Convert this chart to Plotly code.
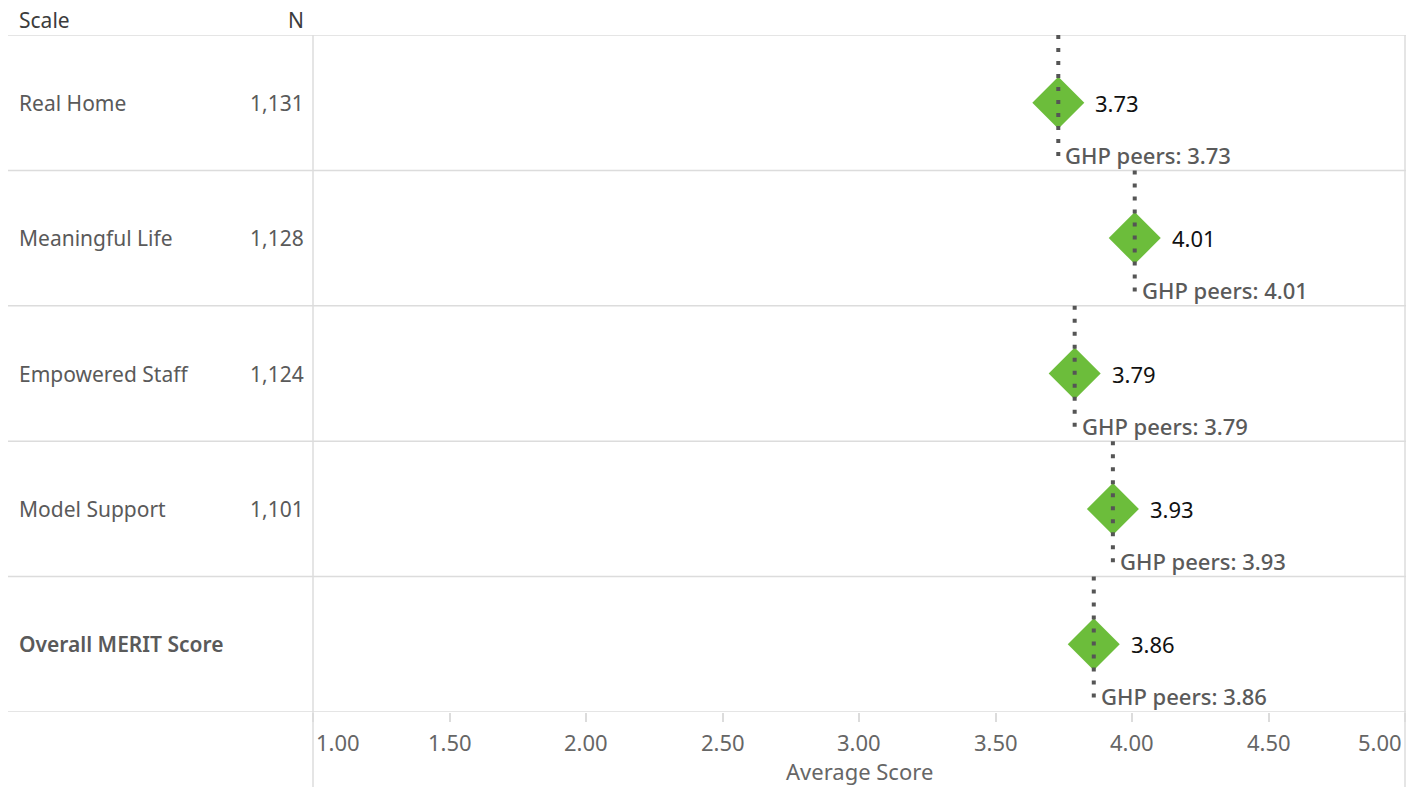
import plotly.graph_objects as go

# Survey scales, respondent counts and scores
scales = ["Real Home", "Meaningful Life", "Empowered Staff", "Model Support", "Overall MERIT Score"]
n_counts = ["1,131", "1,128", "1,124", "1,101", ""]
avg_scores = [3.73, 4.01, 3.79, 3.93, 3.86]
peer_scores = [3.73, 4.01, 3.79, 3.93, 3.86]
tick_vals = [1.0, 1.5, 2.0, 2.5, 3.0, 3.5, 4.0, 4.5, 5.0]

W, H = 1421, 787
ML, MR, MT, MB = 313, 16, 35, 75
PW = W - ML - MR
PH = H - MT - MB

FONT = "Noto Sans"
GREY = "#5a5a5a"
LINE = "#dcdcdc"
GREEN = "#6cbd3b"


def px_to_paper_x(px):
    return (px - ML) / PW


def px_to_paper_y(py):
    return (H - MB - py) / PH


rows = list(range(len(scales)))
fig = go.Figure()

# Scores as diamonds
fig.add_trace(go.Scatter(
    x=avg_scores, y=rows, mode="markers",
    marker=dict(symbol="diamond", size=40, color=GREEN, line=dict(width=0)),
    hoverinfo="skip", showlegend=False,
))

# Peer reference lines (dotted) spanning each row
for i, p in enumerate(peer_scores):
    fig.add_trace(go.Scatter(
        x=[p, p], y=[i - 0.5, i + 0.45], mode="lines",
        line=dict(color="#555555", width=4, dash="4px,9px"),
        hoverinfo="skip", showlegend=False,
    ))

ann = []
for i, (s, n, v, p) in enumerate(zip(scales, n_counts, avg_scores, peer_scores)):
    bold = s.startswith("Overall")
    ann.append(dict(
        x=px_to_paper_x(17), xref="paper", y=i, yref="y", text=s,
        xanchor="left", yanchor="middle", showarrow=False,
        font=dict(family=FONT, size=21, color=GREY,
                  weight=600 if bold else 400),
    ))
    if n:
        ann.append(dict(
            x=px_to_paper_x(306), xref="paper", y=i, yref="y", text=n,
            xanchor="right", yanchor="middle", showarrow=False,
            font=dict(family=FONT, size=21, color=GREY),
        ))
    ann.append(dict(
        x=v, xref="x", y=i, yref="y", text=f"{v:.2f}",
        xanchor="left", yanchor="middle", showarrow=False, xshift=35,
        font=dict(family=FONT, size=22, color="#111111"),
    ))
    ann.append(dict(
        x=p, xref="x", y=i + 0.385, yref="y", text=f"GHP peers: {p:.2f}",
        xanchor="left", yanchor="middle", showarrow=False, xshift=5,
        font=dict(family=FONT, size=22, color=GREY, weight=500),
    ))

# Column headers
ann.append(dict(x=px_to_paper_x(17), xref="paper", y=px_to_paper_y(20), yref="paper",
                text="Scale", xanchor="left", yanchor="middle", showarrow=False,
                font=dict(family=FONT, size=21, color="#3c3c3c", weight=400)))
ann.append(dict(x=px_to_paper_x(306), xref="paper", y=px_to_paper_y(20), yref="paper",
                text="N", xanchor="right", yanchor="middle", showarrow=False,
                font=dict(family=FONT, size=21, color="#3c3c3c", weight=400)))

# Axis tick labels
for k, t in enumerate(tick_vals):
    anchor = "left" if k == 0 else ("right" if k == len(tick_vals) - 1 else "center")
    shift = 1 if k == 0 else (-1 if k == len(tick_vals) - 1 else 0)
    ann.append(dict(x=t, xref="x", y=0, yref="paper", text=f"{t:.2f}",
                    xanchor=anchor, yanchor="middle", yshift=-30, xshift=shift,
                    showarrow=False, font=dict(family=FONT, size=22, color="#666666")))

ann.append(dict(x=0.5, xref="paper", y=0, yref="paper", text="Average Score",
                xanchor="center", yanchor="middle", yshift=-59, showarrow=False,
                font=dict(family=FONT, size=22, color="#666666")))

shapes = []
# Row separators across the table and the plot
for i in range(len(scales) + 1):
    shapes.append(dict(type="line", xref="paper", yref="y",
                       x0=px_to_paper_x(8), x1=px_to_paper_x(1406), y0=i - 0.5, y1=i - 0.5,
                       line=dict(color=LINE, width=1.5), layer="below"))
# Left and right borders of the plot pane
for bx in (0, 1):
    shapes.append(dict(type="line", xref="paper", yref="paper",
                       x0=bx, x1=bx, y0=px_to_paper_y(787), y1=1,
                       line=dict(color=LINE, width=1.5), layer="below"))

fig.update_layout(
    width=W, height=H,
    margin=dict(l=ML, r=MR, t=MT, b=MB),
    paper_bgcolor="white", plot_bgcolor="white",
    xaxis=dict(range=[1, 5], tickvals=tick_vals, showticklabels=False,
               ticks="outside", ticklen=9, tickcolor=LINE, tickwidth=1.5,
               showgrid=False, zeroline=False, showline=False, fixedrange=True),
    yaxis=dict(range=[len(scales) - 0.5, -0.5], showticklabels=False,
               showgrid=False, zeroline=False, showline=False, fixedrange=True),
    annotations=ann, shapes=shapes,
    showlegend=False,
)

fig.write_html("out.html")
